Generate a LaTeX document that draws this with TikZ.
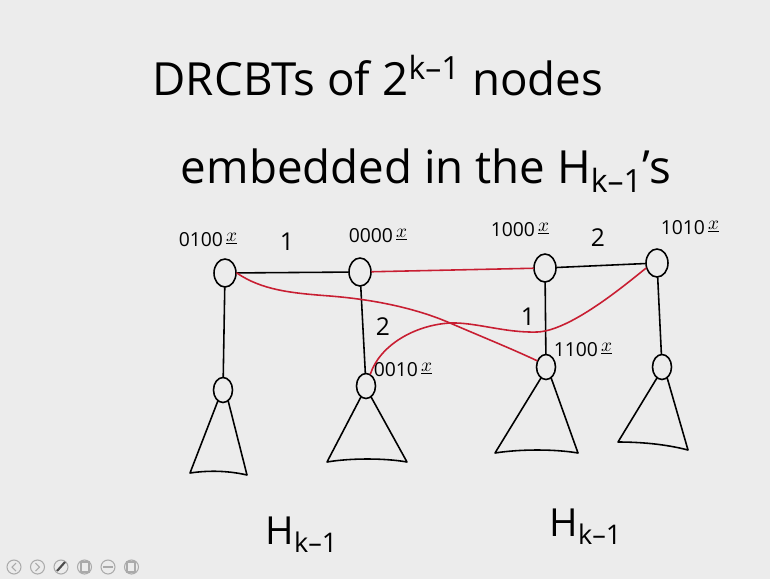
\documentclass[tikz,border=0pt]{standalone}
\usepackage{fontspec}
\setmainfont{Open Sans}
\usetikzlibrary{shapes.geometric}

\definecolor{board}{RGB}{236,236,236}
\definecolor{redink}{RGB}{200,30,50}
\definecolor{btngray}{RGB}{170,170,170}
\newcommand{\addr}[1]{#1\,\raisebox{0.55ex}{\underline{$x$}}}

\begin{document}
\begin{tikzpicture}[x=0.02cm, y=-0.02cm,
    vtx/.style={ellipse, draw, line width=0.9pt, minimum width=0.44cm, minimum height=0.56cm, inner sep=0pt},
    sub/.style={vtx, minimum width=0.38cm, minimum height=0.5cm},
    ink/.style={line width=0.9pt, line cap=round, line join=round},
    redge/.style={ink, redink},
    lbl/.style={font=\fontsize{11}{13}\selectfont, inner sep=0pt},
    num/.style={font=\fontsize{14}{16}\selectfont, inner sep=0pt},
    title/.style={font=\fontsize{26}{30}\selectfont, inner sep=0pt, anchor=base},
    hlbl/.style={font=\fontsize{22}{26}\selectfont, inner sep=0pt, anchor=base}]

    % Board
    \fill[board] (0,0) rectangle (770,579);
    \useasboundingbox (0,0) rectangle (770,579);

    % Heading
    \node[title] (line1) at (378,95) {DRCBTs of 2\textsuperscript{k--1} nodes};
    \node[title] (line2) at (426,183) {embedded in the H\textsubscript{k--1}'s};

    % Roots of the trees
    \node[vtx] (n0100) at (225,273) {};
    \node[vtx] (n0000) at (360,272) {};
    \node[vtx] (n1000) at (545,268) {};
    \node[vtx] (n1010) at (657,263) {};

    \node[sub] (root1) at (223,390) {};
    \node[sub] (n0010) at (366,386) {};
    \node[sub] (n1100) at (546,367) {};
    \node[sub] (root4) at (662,367) {};

    % Addresses
    \node[lbl] (a0100) at (208,240) {\addr{0100}};
    \node[lbl] (a0000) at (378,236) {\addr{0000}};
    \node[lbl] (a1000) at (520,230) {\addr{1000}};
    \node[lbl] (a1010) at (690,228) {\addr{1010}};
    \node[lbl] (a0010) at (403,370) {\addr{0010}};
    \node[lbl] (a1100) at (583,350) {\addr{1100}};

    % Dimensions
    \node[num] (d1) at (287,242) {1};
    \node[num] (d2) at (598,238) {2};
    \node[num] (d3) at (383,327) {2};
    \node[num] (d4) at (528,317) {1};

    % Black edges
    \draw[ink] (n0100) -- (n0000);
    \draw[ink] (n1000) -- (n1010);
    \draw[ink] (n0100) -- (root1);
    \draw[ink] (n0000) -- (n0010);
    \draw[ink] (n1000) -- (n1100);
    \draw[ink] (n1010) -- (root4);

    % Red edges
    \draw[redge] (n0000) -- (n1000);
    \draw[redge] (n0100.east) .. controls (262,290) and (290,293) .. (330,296)
        .. controls (380,300) and (420,310) .. (450,323)
        .. controls (480,336) and (510,348) .. (n1100.145);
    \draw[redge] (n1010.205) .. controls (625,285) and (570,331) .. (537,332)
        .. controls (505,333) and (475,322) .. (450,323)
        .. controls (415,325) and (380,345) .. (n0010.70);

    % Subtrees
    \draw[ink] (root1.-115) -- (190,473) .. controls (210,470) and (230,471) .. (247,475) -- (root1.-65);
    \draw[ink] (n0010.-115) -- (327,462) .. controls (350,458) and (385,458) .. (407,462) -- (n0010.-65);
    \draw[ink] (n1100.-115) -- (495,453) .. controls (520,449) and (555,449) .. (578,453) -- (n1100.-65);
    \draw[ink] (root4.-115) -- (618,442) .. controls (640,442) and (665,444) .. (688,450) -- (root4.-65);

    \node[hlbl] (hleft) at (302,544) {H\textsubscript{k--1}};
    \node[hlbl] (hright) at (586,536) {H\textsubscript{k--1}};

    % Player buttons
    \foreach \i in {0,...,5}
        \draw[btngray, line width=0.6pt] (14+23.5*\i,567) circle (7);
    \draw[btngray, line width=0.6pt] (16,563) -- (12,567) -- (16,571);
    \draw[btngray, line width=0.6pt] (35.5,563) -- (39.5,567) -- (35.5,571);
    \draw[black!70, line width=1.2pt] (57,571) -- (65,562);
    \draw[btngray, line width=0.6pt] (81,562) rectangle (89,572);
    \draw[btngray, line width=0.6pt] (103,567) -- (113,567);
    \draw[btngray, line width=0.6pt] (127,562) rectangle (135,572);

\end{tikzpicture}
\end{document}
